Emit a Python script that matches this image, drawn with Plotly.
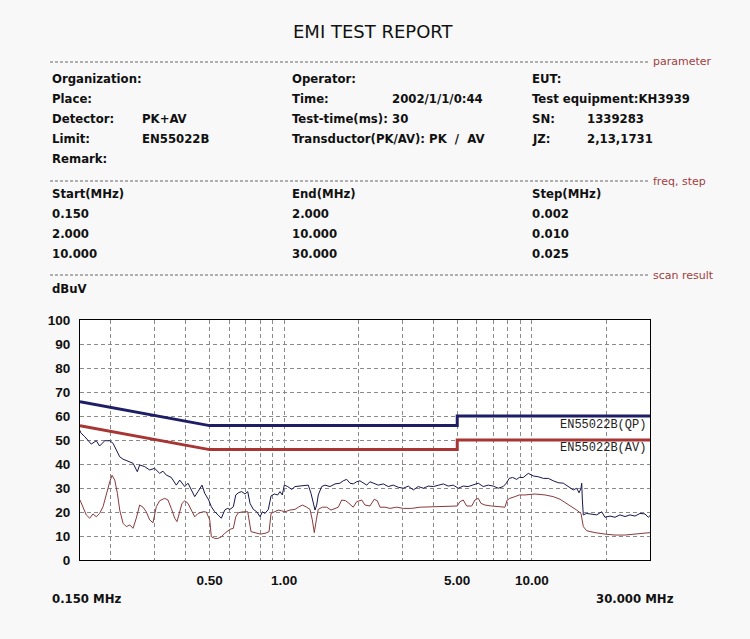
import plotly.graph_objects as go

# ---------------- data ----------------
limit_freq = [0.15, 0.5, 5.0, 5.0, 30.0]
qp_limit = [66, 56, 56, 60, 60]
av_limit = [56, 46, 46, 50, 50]

pk_freq = [
    0.150, 0.151, 0.1567, 0.1616, 0.1666, 0.1745, 0.180, 0.1888, 0.1978, 0.204,
    0.2103, 0.217, 0.2238, 0.2345, 0.2456, 0.2555, 0.2612, 0.2737, 0.2867, 0.300,
    0.3146, 0.3244, 0.3345, 0.3504, 0.3672, 0.379, 0.397, 0.4094, 0.4222, 0.4357,
    0.4493, 0.4663, 0.4782, 0.4963, 0.5085, 0.5247, 0.5411, 0.5581, 0.5759, 0.590,
    0.605, 0.6239, 0.638, 0.6536, 0.6745, 0.695, 0.7132, 0.7286, 0.7512, 0.7751,
    0.800, 0.8166, 0.8373, 0.8639, 0.8859, 0.9135, 0.9423, 0.9626, 0.9834, 1.002,
    1.034, 1.073, 1.107, 1.159, 1.214, 1.252, 1.284, 1.312, 1.333, 1.354,
    1.374, 1.418, 1.463, 1.532, 1.605, 1.681, 1.733, 1.789, 1.845, 1.902,
    1.963, 2.024, 2.087, 2.155, 2.221, 2.312, 2.40, 2.514, 2.634, 2.759,
    2.89, 3.028, 3.172, 3.323, 3.481, 3.649, 3.822, 4.004, 4.194, 4.394,
    4.598, 4.817, 5.047, 5.287, 5.538, 5.803, 6.079, 6.367, 6.67, 6.99,
    7.319, 7.666, 7.889, 8.105, 8.365, 8.688, 8.9, 9.238, 9.68, 10.14,
    10.62, 11.13, 11.66, 12.21, 12.79, 13.4, 14.04, 14.71, 15.18, 15.51,
    15.8, 15.9, 16.0, 16.14, 16.65, 17.45, 18.28, 19.15, 19.74, 20.68,
    21.66, 22.7, 23.78, 24.91, 26.09, 27.34, 28.64, 29.53, 30.0,
]
pk_level = [
    54, 53, 51.4, 50, 48.3, 49.7, 47.5, 49.7, 49.7, 48.6,
    45.8, 43, 42, 41, 40.3, 36.8, 39.6, 38.9, 37.5, 38.2,
    36.1, 37, 35.4, 34.4, 31.2, 33.3, 30.6, 32, 29.2, 26.4,
    28.5, 31.2, 27.8, 25, 22.2, 20.1, 18.8, 17.4, 20.8, 21.5,
    21.1, 22.2, 27.1, 28, 28.5, 27.5, 28.5, 23.6, 21.1, 20.1,
    18, 20.1, 19.4, 21.1, 26.7, 27.5, 27.1, 28.5, 27.1, 31.2,
    30.6, 29.4, 30.6, 30.8, 31.2, 31.2, 27.8, 22.9, 20.8, 22.9,
    27.1, 30.6, 31.2, 30.6, 31.7, 32, 33, 33.6, 32, 31.7,
    32.6, 33, 32, 31.2, 32.6, 32, 31.2, 31.7, 30.6, 31.2,
    30.3, 29.9, 30.8, 29.2, 30.6, 29.9, 30.8, 30.6, 31.2, 31.7,
    30.8, 31.2, 29.9, 30.8, 30.6, 31.2, 32, 30.6, 31.2, 30.8,
    29.9, 30.6, 32, 34, 34.4, 33.6, 34.4, 34.4, 36.1, 35,
    34.7, 34, 34, 33, 32.2, 32, 30.6, 29.2, 29.9, 28,
    29.9, 32, 25, 18.8, 19.4, 19.2, 18.8, 20.1, 17.8, 18.3,
    17.8, 18.8, 18.1, 18.8, 18.3, 19.4, 19.2, 17.8, 18.5,
]

av_freq = [
    0.150, 0.1542, 0.159, 0.1641, 0.1693, 0.1745, 0.180, 0.1858, 0.1916, 0.1978,
    0.202, 0.2072, 0.2123, 0.217, 0.2238, 0.2308, 0.2382, 0.2456, 0.2531, 0.2612,
    0.2694, 0.2777, 0.2867, 0.2956, 0.3048, 0.3146, 0.3295, 0.3398, 0.3504, 0.3618,
    0.3696, 0.379, 0.3872, 0.397, 0.4094, 0.4222, 0.4357, 0.4493, 0.4707, 0.4853,
    0.501, 0.5085, 0.5247, 0.5411, 0.5581, 0.5759, 0.590, 0.605, 0.6239, 0.638,
    0.6536, 0.6846, 0.7132, 0.7218, 0.7354, 0.7632, 0.800, 0.8373, 0.8696, 0.8859,
    0.9135, 0.9475, 0.978, 1.008, 1.056, 1.107, 1.141, 1.185, 1.234, 1.272,
    1.300, 1.324, 1.349, 1.374, 1.426, 1.486, 1.547, 1.605, 1.655, 1.708,
    1.772, 1.828, 1.902, 1.963, 2.057, 2.121, 2.221, 2.312, 2.378, 2.438,
    2.555, 2.675, 2.848, 3.028, 3.274, 3.538, 3.883, 4.261, 4.672, 5.0,
    5.127, 5.287, 5.457, 5.717, 5.895, 6.079, 6.233, 6.468, 6.884, 7.319,
    7.787, 7.955, 8.158, 8.546, 8.9, 9.384, 10.3, 11.31, 12.21, 13.0,
    13.83, 14.49, 15.18, 15.8, 16.0, 16.14, 16.65, 17.99, 19.74, 21.66,
    23.78, 26.09, 28.64, 30.0,
]
av_level = [
    25, 22, 18.8, 17.4, 19.2, 18, 19.4, 22.2, 27.8, 32.6,
    35.3, 33.3, 27.8, 20.8, 15.3, 13.9, 14.6, 13.2, 17.4, 22.9,
    22, 20.1, 16.7, 15.5, 22.2, 24.7, 25.7, 25, 21.5, 17.4,
    16, 20.8, 23.6, 24.7, 23.6, 20.8, 18, 19.4, 20.1, 20,
    16.7, 9.7, 9, 9, 9.7, 11.1, 11.8, 12.8, 13.2, 18,
    19.7, 20.1, 20.1, 16.7, 11.8, 11.4, 10.8, 11.1, 11.8, 19.4,
    20.1, 20.8, 20.5, 20.1, 20.8, 21.1, 22, 22.9, 22, 21.1,
    16.7, 11.4, 16.7, 21.1, 22, 22, 20.8, 21.5, 22, 25,
    24.7, 23.6, 22, 24.3, 25, 22.9, 22.5, 25.3, 24.7, 22,
    22, 21.5, 22, 21.5, 21.5, 22, 22.2, 22.2, 22.5, 22.5,
    24.3, 25, 22.5, 22.5, 25, 25.7, 23.6, 22.9, 22.5, 22.2,
    22, 25, 25.7, 26.4, 27.1, 27.1, 27.5, 27.1, 26.4, 25.3,
    23.6, 22, 20.8, 19.4, 16.5, 13.9, 12.2, 11.4, 10.8, 10.4,
    10.4, 10.8, 11.4, 11.4,
]

grid_freq = [0.2, 0.3, 0.4, 0.5, 0.6, 0.7, 0.8, 0.9, 1, 2, 3, 4, 5, 6, 7, 8, 9, 10, 20]
labeled_freq = {0.5: "0.50", 1: "1.00", 5: "5.00", 10: "10.00"}
y_ticks = [0, 10, 20, 30, 40, 50, 60, 70, 80, 90, 100]

header_rows = [
    [(50, "Organization:"), (290, "Operator:"), (530, "EUT:")],
    [(50, "Place:"), (290, "Time:"), (390, "2002/1/1/0:44"), (530, "Test equipment:KH3939")],
    [(50, "Detector:"), (140, "PK+AV"), (290, "Test-time(ms):"), (390, "30"), (530, "SN:"), (585, "1339283")],
    [(50, "Limit:"), (140, "EN55022B"), (290, "Transductor(PK/AV): PK  /  AV"), (530, "JZ:"), (585, "2,13,1731")],
    [(50, "Remark:")],
]
freq_rows = [
    [(50, "Start(MHz)"), (290, "End(MHz)"), (530, "Step(MHz)")],
    [(50, "0.150"), (290, "2.000"), (530, "0.002")],
    [(50, "2.000"), (290, "10.000"), (530, "0.010")],
    [(50, "10.000"), (290, "30.000"), (530, "0.025")],
]

# ---------------- layout geometry (pixels, in page coordinates) ----------------
OFF = 8                      # page body margin of the html page
W, H = 750 - OFF, 639 - OFF  # figure size
L, R, T, B = 80, 650, 320, 560  # plot area in page pixels
BG = "#f8f8f8"


def px(x):
    return (x - L) / (R - L)


def py(y):
    return (B - y) / (B - T)


QP_COLOR = "#1e1e66"
AV_COLOR = "#a83434"
HEAD_FONT = dict(family="Liberation Sans Narrow, DejaVu Sans Condensed, Liberation Sans", size=13,
                 color="#111111", weight="bold")

fig = go.Figure()
fig.add_trace(go.Scatter(x=pk_freq, y=pk_level, mode="lines",
                         line=dict(color="#161650", width=1), showlegend=False))
fig.add_trace(go.Scatter(x=av_freq, y=av_level, mode="lines",
                         line=dict(color="#8a3a3a", width=1), showlegend=False))
fig.add_trace(go.Scatter(x=limit_freq, y=qp_limit, mode="lines",
                         line=dict(color=QP_COLOR, width=3), showlegend=False))
fig.add_trace(go.Scatter(x=limit_freq, y=av_limit, mode="lines",
                         line=dict(color=AV_COLOR, width=3), showlegend=False))

annotations = []
shapes = []

annotations.append(dict(x=px(373), y=py(32), xref="paper", yref="paper", text="EMI TEST REPORT",
                        showarrow=False, xanchor="center", yanchor="middle",
                        font=dict(family="DejaVu Sans", size=18, color="#111111")))

for y_line, label in [(62, "parameter"), (181, "freq, step"), (275, "scan result")]:
    shapes.append(dict(type="line", xref="paper", yref="paper", x0=px(50), x1=px(648),
                       y0=py(y_line), y1=py(y_line),
                       line=dict(color="#666666", width=1, dash="3px,2px")))
    annotations.append(dict(x=px(651), y=py(y_line), xref="paper", yref="paper", text=label,
                            showarrow=False, xanchor="left", yanchor="middle",
                            font=dict(family="DejaVu Sans", size=11, color="#a04040")))

for i, row in enumerate(header_rows):
    yy = 78 + 20 * i
    for xx, txt in row:
        annotations.append(dict(x=px(xx), y=py(yy), xref="paper", yref="paper", text=txt,
                                showarrow=False, xanchor="left", yanchor="middle", font=HEAD_FONT))

for i, row in enumerate(freq_rows):
    yy = 193 + 20 * i
    for xx, txt in row:
        annotations.append(dict(x=px(xx), y=py(yy), xref="paper", yref="paper", text=txt,
                                showarrow=False, xanchor="left", yanchor="middle", font=HEAD_FONT))

annotations.append(dict(x=px(50), y=py(288), xref="paper", yref="paper", text="dBuV",
                        showarrow=False, xanchor="left", yanchor="middle", font=HEAD_FONT))
annotations.append(dict(x=px(50), y=py(598), xref="paper", yref="paper", text="0.150 MHz",
                        showarrow=False, xanchor="left", yanchor="middle", font=HEAD_FONT))
annotations.append(dict(x=px(594), y=py(598), xref="paper", yref="paper", text="30.000 MHz",
                        showarrow=False, xanchor="left", yanchor="middle", font=HEAD_FONT))

LIM_FONT = dict(family="Liberation Mono, DejaVu Sans Mono", size=12, color="#222222")
annotations.append(dict(x=px(648), y=py(425), xref="paper", yref="paper", text="EN55022B(QP)",
                        showarrow=False, xanchor="right", yanchor="middle", font=LIM_FONT))
annotations.append(dict(x=px(648), y=py(448), xref="paper", yref="paper", text="EN55022B(AV)",
                        showarrow=False, xanchor="right", yanchor="middle", font=LIM_FONT))

TICK_FONT = dict(family="Liberation Sans", size=13.5, color="#111111", weight="bold")

fig.update_layout(
    width=W, height=H,
    margin=dict(l=L - OFF, r=W - (R - OFF), t=T - OFF, b=H - (B - OFF), pad=0),
    paper_bgcolor=BG,
    plot_bgcolor="#ffffff",
    showlegend=False,
    annotations=annotations,
    shapes=shapes,
    xaxis=dict(
        type="log", range=[-0.823909, 1.477121],
        tickvals=grid_freq,
        ticktext=[labeled_freq.get(f, "") for f in grid_freq],
        ticks="", tickfont=TICK_FONT, ticklabelstandoff=8,
        showgrid=True, gridcolor="#8a8a8a", gridwidth=1, griddash="4px,3px",
        showline=True, linecolor="#000000", linewidth=1, mirror=True,
        zeroline=False, fixedrange=True,
    ),
    yaxis=dict(
        range=[0, 100], tickvals=y_ticks,
        ticks="", tickfont=TICK_FONT, ticklabelstandoff=6,
        showgrid=True, gridcolor="#8a8a8a", gridwidth=1, griddash="4px,3px",
        showline=True, linecolor="#000000", linewidth=1, mirror=True,
        zeroline=False, fixedrange=True,
    ),
)

fig.write_html("out.html", post_script="document.body.style.backgroundColor='%s';" % BG)
